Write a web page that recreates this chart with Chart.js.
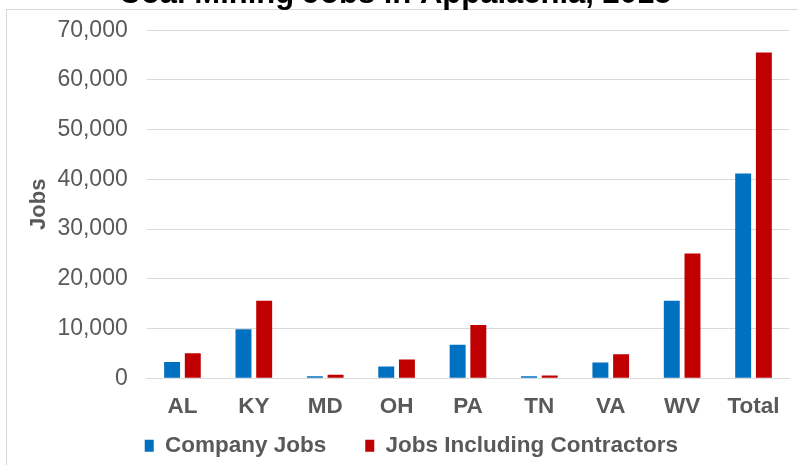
<!DOCTYPE html>
<html>
<head>
<meta charset="utf-8">
<script src="https://cdn.jsdelivr.net/npm/chart.js@4"></script>
<style>
  html, body { margin: 0; padding: 0; background: #fff; }
  #wrap { position: relative; width: 798px; height: 465px; overflow: hidden; }
  #frame { position: absolute; left: 6px; top: 9px; width: 820px; height: 480px; border: 1px solid #d9d9d9; }
  #chart { position: absolute; left: 0; top: -27px; }
</style>
</head>
<body>
<div id="wrap">
  <div id="frame"></div>
  <canvas id="chart" width="798" height="500"></canvas>
</div>
<script>
'use strict';

// chart data
var states       = ['AL', 'KY', 'MD', 'OH', 'PA', 'TN', 'VA', 'WV', 'Total'];
var companyJobs  = [3250, 9850, 400, 2350, 6750, 400, 3150, 15600, 41200];
var withContract = [5050, 15600, 700, 3750, 10700, 550, 4850, 25100, 65500];
var yTicks       = [0, 10000, 20000, 30000, 40000, 50000, 60000, 70000];

var COLORS = { blue: '#0070C0', red: '#C00000', text: '#595959', grid: '#d9d9d9' };
var FONT = 'Arial, "Liberation Sans", sans-serif';
var NBSP = '\u00a0';

// blank legend entry, only used to space the real ones like the original
function spacer(n) {
  return { text: NBSP.repeat(n), fillStyle: 'rgba(0,0,0,0)', strokeStyle: 'rgba(0,0,0,0)',
           lineWidth: 0, hidden: false, datasetIndex: null };
}

var el = document.getElementById('chart');
new Chart(el, {
  type: 'bar',
  data: {
    labels: states,
    datasets: [
      { label: 'Company Jobs', data: companyJobs, backgroundColor: COLORS.blue,
        categoryPercentage: 0.58, barPercentage: 0.77 },
      { label: 'Jobs Including Contractors', data: withContract, backgroundColor: COLORS.red,
        categoryPercentage: 0.58, barPercentage: 0.77 }
    ]
  },
  options: {
    responsive: false,
    animation: false,
    layout: { padding: { left: 0, right: 8, top: 0, bottom: 6 } },
    plugins: {
      tooltip: { enabled: false },
      title: {
        display: true,
        text: 'Coal Mining Jobs in Appalachia, 2015',
        color: '#000',
        font: { family: FONT, size: 31, weight: 'bold' },
        padding: { top: 2.5, bottom: 17.5 }
      },
      legend: {
        position: 'bottom',
        labels: {
          color: COLORS.text,
          font: { family: FONT, size: 22.5, weight: 'bold', lineHeight: 1 },
          boxWidth: 9,
          boxHeight: 12,
          padding: 0,
          generateLabels: function (chart) {
            var items = Chart.defaults.plugins.legend.labels.generateLabels(chart);
            items.forEach(function (it) { it.lineWidth = 0; });
            return [spacer(2), items[0], spacer(3), items[1]];
          }
        }
      }
    },
    scales: {
      x: {
        grid: { display: false, drawTicks: false },
        border: { display: true, color: COLORS.grid, width: 1 },
        ticks: {
          color: COLORS.text,
          padding: 18,
          font: { family: FONT, size: 22.5, weight: 'bold', lineHeight: 0.9 }
        }
      },
      y: {
        min: 0,
        max: 70000,
        afterBuildTicks: function (axis) {
          axis.ticks = yTicks.map(function (v) { return { value: v }; });
        },
        grid: { color: COLORS.grid, lineWidth: 1, drawTicks: false },
        border: { display: false },
        ticks: {
          color: COLORS.text,
          padding: 19,
          font: { family: FONT, size: 23 },
          callback: function (v) { return v.toLocaleString('en-US'); }
        },
        title: {
          display: true,
          text: 'Jobs',
          color: COLORS.text,
          font: { family: FONT, size: 22, weight: 'bold' },
          padding: { top: 26, bottom: -14 }
        }
      }
    }
  }
});
</script>
</body>
</html>
